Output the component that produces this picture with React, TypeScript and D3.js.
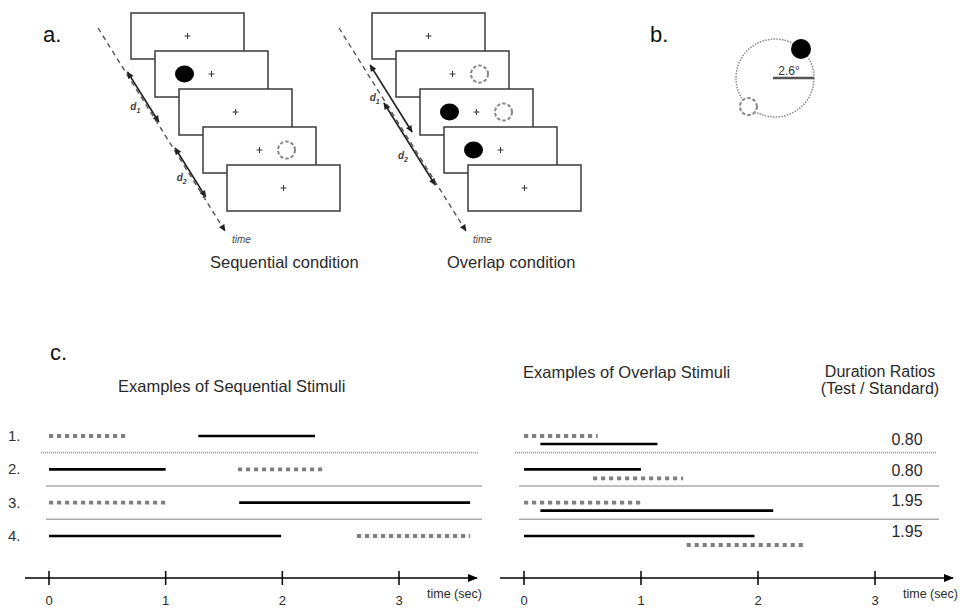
import React, { useEffect, useRef } from 'react'
import * as d3 from 'd3'

// panel c data (seconds)
const rowLabels = ['1.', '2.', '3.', '4.']
const seqDotted = [[0, 0.68], [1.62, 2.37], [0, 1.0], [2.64, 3.61]]
const seqSolid = [[1.28, 2.28], [0, 1.0], [1.63, 3.61], [0, 1.99]]
const ovlDotted = [[0, 0.63], [0.59, 1.36], [0, 1.0], [1.39, 2.4]]
const ovlSolid = [[0.14, 1.14], [0, 1.0], [0.14, 2.13], [0, 1.97]]
const ratioLabels = ['0.80', '0.80', '1.95', '1.95']
const separatorKinds = ['dotted', 'solid', 'solid']
const tickValues = [0, 1, 2, 3]

// panel a data: what is shown on each frame
const seqFrames = [['cross'], ['disk', 'cross'], ['cross'], ['cross', 'ring'], ['cross']]
const ovlFrames = [['cross'], ['cross', 'ring'], ['disk', 'cross', 'ring'], ['disk', 'cross'], ['cross']]
const seqArrows = [
  { sub: '1', y0: 72, y1: 122, off: 2, lx: -19, ly: 110 },
  { sub: '2', y0: 148, y1: 197, off: 2, lx: -17, ly: 181 },
]
const ovlArrows = [
  { sub: '1', y0: 65, y1: 132, off: 8, lx: -15, ly: 101 },
  { sub: '2', y0: 103, y1: 185, off: -2, lx: -23, ly: 159 },
]

const FONT = "'Liberation Sans', Arial, Helvetica, sans-serif"
const INK = '#2a2a2a'

function drawPanelA(svg, frames, arrows, x0, caption, captionX) {
  const g = svg.append('g')
  const fx = d3.scaleLinear().domain([0, 4]).range([x0, x0 + 96])
  const fy = d3.scaleLinear().domain([0, 4]).range([13, 165])
  const fw = 113, fh = 46

  // dashed time line
  const lineX = d3.scaleLinear().domain([28, 231]).range([x0 - 33, x0 + 94])
  g.append('line')
    .attr('x1', lineX(28)).attr('y1', 28)
    .attr('x2', lineX(231)).attr('y2', 231)
    .attr('stroke', '#555').attr('stroke-width', 1.4)
    .attr('stroke-dasharray', '5 4')
    .attr('marker-end', 'url(#smallHead)')
  g.append('text')
    .attr('x', lineX(231) + 7).attr('y', 243)
    .attr('font-size', 10).attr('font-style', 'italic')
    .attr('fill', '#444').text('time')

  // d1 / d2 arrows
  arrows.forEach((a) => {
    g.append('line')
      .attr('x1', lineX(a.y0) + a.off).attr('y1', a.y0)
      .attr('x2', lineX(a.y1) + a.off).attr('y2', a.y1)
      .attr('stroke', '#222').attr('stroke-width', 1.6)
      .attr('marker-start', 'url(#smallHead)')
      .attr('marker-end', 'url(#smallHead)')
    const t = g.append('text')
      .attr('x', lineX(a.ly) + a.lx).attr('y', a.ly)
      .attr('font-size', 10).attr('font-style', 'italic')
      .attr('font-weight', 'bold').attr('fill', '#444')
    t.append('tspan').text('d')
    t.append('tspan').attr('font-size', 7).attr('dy', 3).text(a.sub)
  })

  // frames
  frames.forEach((items, i) => {
    const fg = g.append('g').attr('transform', `translate(${fx(i)},${fy(i)})`)
    fg.append('rect')
      .attr('width', fw).attr('height', fh)
      .attr('fill', '#fff').attr('stroke', '#3a3a3a').attr('stroke-width', 1.5)
    const cx = fw / 2, cy = fh / 2
    items.forEach((it) => {
      if (it === 'cross') {
        fg.append('path')
          .attr('d', `M${cx - 3},${cy}H${cx + 3}M${cx},${cy - 3}V${cy + 3}`)
          .attr('stroke', '#333').attr('stroke-width', 1)
      } else if (it === 'disk') {
        fg.append('ellipse')
          .attr('cx', cx - 27).attr('cy', cy).attr('rx', 9.5).attr('ry', 8.5)
          .attr('fill', '#000')
      } else if (it === 'ring') {
        fg.append('circle')
          .attr('cx', cx + 27).attr('cy', cy).attr('r', 8.5)
          .attr('fill', 'none').attr('stroke', '#888').attr('stroke-width', 2)
          .attr('stroke-dasharray', '3.5 2')
      }
    })
  })

  g.append('text')
    .attr('x', captionX).attr('y', 268)
    .attr('font-size', 16.5).attr('fill', INK).text(caption)
}

function drawPanelB(svg) {
  const g = svg.append('g')
  const cx = 775, cy = 78, r = 39
  g.append('circle')
    .attr('cx', cx).attr('cy', cy).attr('r', r)
    .attr('fill', 'none').attr('stroke', '#888').attr('stroke-width', 1.5)
    .attr('stroke-dasharray', '1.5 1.3')
  g.append('circle')
    .attr('cx', cx + r * Math.cos(-0.84)).attr('cy', cy + r * Math.sin(-0.84)).attr('r', 10)
    .attr('fill', '#000')
  g.append('circle')
    .attr('cx', cx + r * Math.cos(2.32)).attr('cy', cy + r * Math.sin(2.32)).attr('r', 8.5)
    .attr('fill', '#fff').attr('stroke', '#888').attr('stroke-width', 2)
    .attr('stroke-dasharray', '3.5 2')
  g.append('line')
    .attr('x1', cx - 2).attr('y1', cy).attr('x2', cx + r).attr('y2', cy)
    .attr('stroke', '#555').attr('stroke-width', 2.5)
  g.append('text')
    .attr('x', 789).attr('y', 75).attr('text-anchor', 'middle')
    .attr('font-size', 12).attr('fill', '#333').text('2.6°')
}

function drawPanelC(svg, x, dotted, solid, overlap, sepX, titleX, titleY, title) {
  const g = svg.append('g')
  const rowY = d3.scalePoint().domain(rowLabels).range([436, 536])

  g.append('text')
    .attr('x', titleX).attr('y', titleY)
    .attr('font-size', 16.5).attr('fill', INK).text(title)

  // separators between rows
  separatorKinds.forEach((kind, i) => {
    const y = (rowY(rowLabels[i]) + rowY(rowLabels[i + 1])) / 2
    const [a, b] = kind === 'dotted' ? sepX[0] : sepX[1]
    g.append('line')
      .attr('x1', a).attr('x2', b).attr('y1', y).attr('y2', y)
      .attr('stroke', kind === 'dotted' ? '#999' : '#aaa')
      .attr('stroke-width', kind === 'dotted' ? 1.6 : 1.5)
      .attr('stroke-dasharray', kind === 'dotted' ? '1 1' : null)
  })

  rowLabels.forEach((lab, i) => {
    const y = rowY(lab)
    const d = dotted[i], s = solid[i]
    let yd = y, ys = y
    if (overlap) {
      // the stimulus that starts first sits on the upper line
      if (d[0] <= s[0]) ys = y + 8
      else yd = y + 9
    }
    g.append('line')
      .attr('x1', x(d[0])).attr('x2', x(d[1])).attr('y1', yd).attr('y2', yd)
      .attr('stroke', '#808080').attr('stroke-width', 3.8)
      .attr('stroke-dasharray', '4.2 3.8')
    g.append('line')
      .attr('x1', x(s[0])).attr('x2', x(s[1])).attr('y1', ys).attr('y2', ys)
      .attr('stroke', '#000').attr('stroke-width', 2.6)
  })

  // time axis
  const [r0, r1] = x.range()
  g.append('line')
    .attr('x1', r0 - 24).attr('x2', r1 + 78).attr('y1', 578).attr('y2', 578)
    .attr('stroke', '#000').attr('stroke-width', 1.6)
    .attr('marker-end', 'url(#axisHead)')
  tickValues.forEach((t) => {
    g.append('line')
      .attr('x1', x(t)).attr('x2', x(t)).attr('y1', 571).attr('y2', 585)
      .attr('stroke', '#000').attr('stroke-width', 1.5)
    g.append('text')
      .attr('x', x(t)).attr('y', 605).attr('text-anchor', 'middle')
      .attr('font-size', 13).attr('fill', INK).text(d3.format('d')(t))
  })
  g.append('text')
    .attr('x', r1 + 28).attr('y', 598)
    .attr('font-size', 12.5).attr('fill', INK).text('time (sec)')
}

function drawFigure(node) {
  const svg = d3.select(node)
  svg.selectAll('*').remove()
  svg.attr('font-family', FONT)

  const defs = svg.append('defs')
  defs.append('marker')
    .attr('id', 'smallHead').attr('viewBox', '0 0 10 10')
    .attr('refX', 9).attr('refY', 5)
    .attr('markerWidth', 8).attr('markerHeight', 7)
    .attr('markerUnits', 'userSpaceOnUse')
    .attr('orient', 'auto-start-reverse')
    .append('path').attr('d', 'M0,0.5L10,5L0,9.5Z').attr('fill', '#222')
  defs.append('marker')
    .attr('id', 'axisHead').attr('viewBox', '0 0 10 10')
    .attr('refX', 9).attr('refY', 5)
    .attr('markerWidth', 12).attr('markerHeight', 10)
    .attr('markerUnits', 'userSpaceOnUse')
    .attr('orient', 'auto')
    .append('path').attr('d', 'M0,1L10,5L0,9Z').attr('fill', '#000')

  // panel letters
  svg.append('text').attr('x', 43).attr('y', 42).attr('font-size', 22).attr('fill', '#111').text('a.')
  svg.append('text').attr('x', 650).attr('y', 42).attr('font-size', 22).attr('fill', '#111').text('b.')
  svg.append('text').attr('x', 50).attr('y', 360).attr('font-size', 22).attr('fill', '#111').text('c.')

  drawPanelA(svg, seqFrames, seqArrows, 131, 'Sequential condition', 210)
  drawPanelA(svg, ovlFrames, ovlArrows, 372, 'Overlap condition', 447)
  drawPanelB(svg)

  const xSeq = d3.scaleLinear().domain([0, 3]).range([49, 399])
  const xOvl = d3.scaleLinear().domain([0, 3]).range([524, 875])
  drawPanelC(svg, xSeq, seqDotted, seqSolid, false, [[41, 478], [46, 482]], 118, 392, 'Examples of Sequential Stimuli')
  drawPanelC(svg, xOvl, ovlDotted, ovlSolid, true, [[515, 936], [519, 939]], 523, 378, 'Examples of Overlap Stimuli')

  // row numbers
  const rowY = d3.scalePoint().domain(rowLabels).range([436, 536])
  rowLabels.forEach((lab) => {
    svg.append('text').attr('x', 8).attr('y', rowY(lab) + 5)
      .attr('font-size', 15).attr('fill', '#333').text(lab)
  })

  // duration ratios column
  svg.append('text').attr('x', 880).attr('y', 377).attr('text-anchor', 'middle')
    .attr('font-size', 16).attr('fill', INK).text('Duration Ratios')
  svg.append('text').attr('x', 880).attr('y', 394).attr('text-anchor', 'middle')
    .attr('font-size', 16).attr('fill', INK).text('(Test / Standard)')
  const ratioY = d3.scalePoint().domain(d3.range(ratioLabels.length)).range([445, 537])
  ratioLabels.forEach((r, i) => {
    svg.append('text').attr('x', 907).attr('y', ratioY(i)).attr('text-anchor', 'middle')
      .attr('font-size', 16).attr('fill', INK).text(r)
  })
}

export default function App() {
  const ref = useRef(null)
  useEffect(() => {
    if (ref.current) drawFigure(ref.current)
  }, [])
  return (
    <svg
      ref={ref}
      width={970}
      height={608}
      style={{ position: 'absolute', left: 0, top: 0, background: '#fff', fontFamily: FONT }}
    />
  )
}
